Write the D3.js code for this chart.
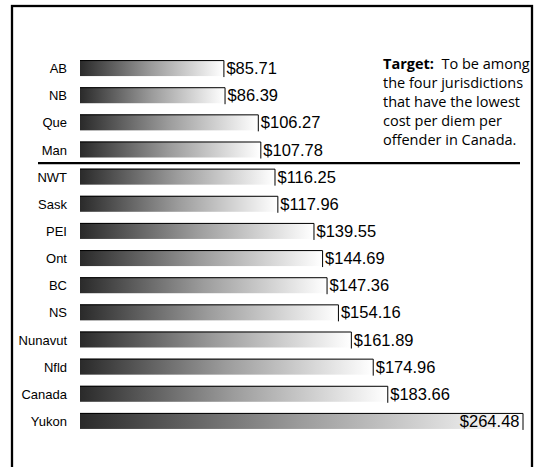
<!DOCTYPE html>
<html>
<head>
<meta charset="utf-8">
<script src="https://cdn.jsdelivr.net/npm/d3@7"></script>
<style>
  body { margin: 0; background: #fff; }
  svg { display: block; }
</style>
</head>
<body>
<div id="chart"></div>
<script>
// Cost per diem per offender, by jurisdiction
const jurisdictions = ["AB", "NB", "Que", "Man", "NWT", "Sask", "PEI", "Ont", "BC", "NS", "Nunavut", "Nfld", "Canada", "Yukon"];
const costs = [85.71, 86.39, 106.27, 107.78, 116.25, 117.96, 139.55, 144.69, 147.36, 154.16, 161.89, 174.96, 183.66, 264.48];
const targetCount = 4; // line drawn below the lowest four
const targetLines = ["To be among", "the four jurisdictions", "that have the lowest", "cost per diem per", "offender in Canada."];

const width = 535, height = 467;
const barH = 16;

const svg = d3.select("#chart").append("svg")
    .attr("width", width)
    .attr("height", height);

// frame (no bottom edge visible)
svg.append("rect")
    .attr("x", 12).attr("y", 6)
    .attr("width", 520).attr("height", 500)
    .attr("fill", "none")
    .attr("stroke", "#000")
    .attr("stroke-width", 2.3);

const x = d3.scaleLinear().domain([0, 264.48]).range([80, 522.5]);
const y = d3.scalePoint().domain(jurisdictions).range([54.5, 434.5]).padding(0.5);

const defs = svg.append("defs");
const grad = defs.append("linearGradient")
    .attr("id", "barGrad")
    .attr("x1", "0").attr("x2", "1").attr("y1", "0").attr("y2", "0");
grad.append("stop").attr("offset", "0").attr("stop-color", "#2a2a2a");
grad.append("stop").attr("offset", "0.5").attr("stop-color", "#9c9c9c");
grad.append("stop").attr("offset", "1").attr("stop-color", "#ffffff");

const data = jurisdictions.map((j, i) => ({ name: j, value: costs[i] }));

const row = svg.selectAll(".row")
    .data(data)
    .enter().append("g")
    .attr("class", "row")
    .attr("transform", d => `translate(0,${y(d.name)})`);

row.append("rect")
    .attr("x", x(0))
    .attr("y", -barH / 2)
    .attr("width", d => x(d.value) - x(0))
    .attr("height", barH)
    .attr("fill", "url(#barGrad)");

// outline on top and right edge
row.append("path")
    .attr("d", d => `M${x(0)},${-barH / 2 + 0.5}H${x(d.value) + 0.5}V${barH / 2 + 1}`)
    .attr("fill", "none")
    .attr("stroke", "#000")
    .attr("stroke-width", 1);

row.append("text")
    .attr("x", 67)
    .attr("y", 5)
    .attr("text-anchor", "end")
    .style("font-family", "Liberation Sans, Arial, sans-serif")
    .style("font-size", "13px")
    .text(d => d.name);

// value labels; the widest bar keeps its label inside
const maxVal = d3.max(costs);
row.append("text")
    .attr("x", d => d.value === maxVal ? x(d.value) - 3 : x(d.value) + 3)
    .attr("y", 6)
    .attr("text-anchor", d => d.value === maxVal ? "end" : "start")
    .style("font-family", "Liberation Sans, Arial, sans-serif")
    .style("font-size", "16.5px")
    .text(d => "$" + d3.format(".2f")(d.value));

// separator under the target group
const sepY = (y(jurisdictions[targetCount - 1]) + y(jurisdictions[targetCount])) / 2;
svg.append("line")
    .attr("x1", 38).attr("x2", 520)
    .attr("y1", sepY).attr("y2", sepY)
    .attr("stroke", "#000")
    .attr("stroke-width", 2.2);

// target note
const noteX = 383;
const note = svg.append("text")
    .attr("x", noteX)
    .attr("y", 68.5)
    .style("font-family", "Open Sans, Noto Sans, sans-serif")
    .style("font-size", "14.5px")
    .attr("fill", "#000");
targetLines.forEach((line, i) => {
    const t = note.append("tspan")
        .attr("x", noteX)
        .attr("dy", i === 0 ? 0 : 19.2);
    if (i === 0) {
        t.append("tspan").style("font-weight", "bold").text("Target:");
        t.append("tspan").text("\u00a0 " + line);
    } else {
        t.text(line);
    }
});
</script>
</body>
</html>
